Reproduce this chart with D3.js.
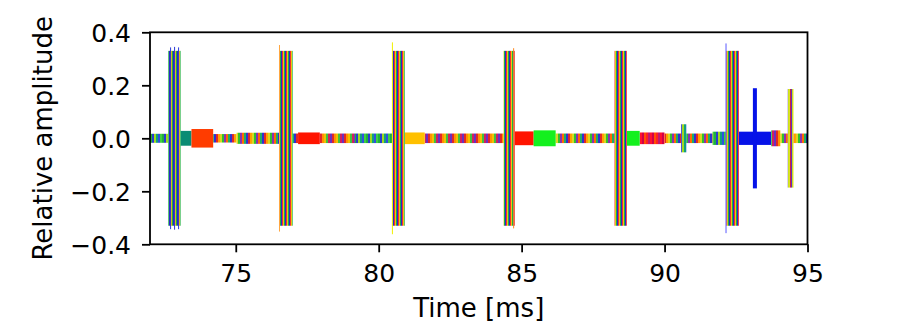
<!DOCTYPE html>
<html>
<head>
<meta charset="utf-8">
<script src="https://cdn.jsdelivr.net/npm/d3@7"></script>
<style>
  body { margin: 0; background: #fff; }
  text { font-family: "DejaVu Sans", sans-serif; }
</style>
</head>
<body>
<div id="chart"></div>
<script>
width = 897
height = 327

margin = {top: 32.3, right: 89.5, bottom: 82.7, left: 150}

// signal segments: start / end time [ms], half amplitude, stripe set
segStart = [72.00, 72.64, 73.07, 73.45, 74.21, 75.03, 76.53, 76.99, 77.18, 77.94, 79.17, 80.48, 80.91, 81.61, 84.37, 84.76, 85.42, 86.19, 88.25, 88.68, 89.13, 90.00, 90.58, 90.76, 91.68, 92.16, 92.60, 93.09, 93.73, 94.05, 94.31, 94.51]
segEnd   = [72.64, 73.07, 73.45, 74.21, 75.03, 76.53, 76.99, 77.18, 77.94, 79.17, 80.48, 80.91, 81.61, 84.37, 84.76, 85.42, 86.19, 88.25, 88.68, 89.13, 90.00, 90.58, 90.76, 91.68, 92.16, 92.60, 93.73, 93.23, 94.05, 94.31, 94.51, 95.10]
segAmp   = [0.017, 0.330, 0.028, 0.035, 0.016, 0.021, 0.330, 0.018, 0.022, 0.018, 0.018, 0.330, 0.022, 0.018, 0.330, 0.026, 0.030, 0.018, 0.330, 0.028, 0.022, 0.018, 0.053, 0.018, 0.025, 0.330, 0.025, 0.189, 0.030, 0.018, 0.186, 0.018]
segKind  = ["cool", "burst", "teal", "orange", "mixed", "mixed", "burst", "mixed", "red", "warm", "cool", "burst", "yellow", "warm", "burst", "red", "green", "mixed", "burst", "green", "crimson", "mixed", "cool", "mixed", "cool", "burst", "blue", "blue", "warm", "mixed", "tail", "mixed"]

// single lines that stick out of the bursts
spikeTime  = [72.72, 72.86, 73.00, 76.53, 80.48, 84.72, 92.15]
spikeAmp   = [0.343, 0.345, 0.343, 0.352, 0.362, 0.340, 0.358]
spikeColor = ["#2a3ad8", "#2a3ad8", "#2a3ad8", "#ffa640", "#f0f000", "#ff8a20", "#5a5aff"]

yTicks = [-0.4, -0.2, 0.0, 0.2, 0.4]
xTicks = [75, 80, 85, 90, 95]

stripes = {
  burst:   {w: 1, colors: ["#f03030", "#e8c810", "#20b040", "#2828c8"]},
  mixed:   {w: 2, colors: ["#3030d0", "#e02828", "#ffa000", "#d8d820", "#30c030", "#8a30b0", "#ff6a00", "#20b060"]},
  warm:    {w: 2, colors: ["#6a30c0", "#e02828", "#ff9000", "#f0c000", "#40c040", "#d02060"]},
  cool:    {w: 2, colors: ["#20b040", "#2a3ad0", "#a0d820", "#10a080", "#3050e0", "#40d040"]},
  crimson: {w: 2, colors: ["#ff1030", "#d00048", "#ff5000", "#ff2020", "#c01870"]},
  tail:    {w: 1, colors: ["#d02040", "#6030c0", "#c8e020", "#e0e020"]},
  teal:    {solid: "#0a8c74"},
  orange:  {solid: "#ff3c00"},
  red:     {solid: "#ff1400"},
  yellow:  {solid: "#ffc000"},
  green:   {solid: "#14f01e"},
  blue:    {solid: "#0612e8"}
}

innerW = width - margin.left - margin.right
innerH = height - margin.top - margin.bottom

x = d3.scaleLinear().domain([72, 95]).range([0, innerW])
y = d3.scaleLinear().domain([-0.4, 0.4]).range([innerH, 0])

const svg = d3.select('#chart')
  .append("svg")
    .attr("width", width)
    .attr("height", height)
  .append("g")
    .attr("transform", `translate(${margin.left},${margin.top})`);

const defs = svg.append("defs")
defs.append("clipPath").attr("id", "plotclip")
  .append("rect").attr("width", innerW).attr("height", innerH)

// one striped pattern per colour set
Object.entries(stripes).forEach(([k, s]) => {
  if (s.solid) return
  const p = defs.append("pattern")
      .attr("id", "st-" + k)
      .attr("patternUnits", "userSpaceOnUse")
      .attr("width", s.w * s.colors.length)
      .attr("height", innerH)
  s.colors.forEach((c, i) => p.append("rect")
      .attr("x", i * s.w).attr("y", 0)
      .attr("width", s.w).attr("height", innerH)
      .attr("fill", c))
})
const fillOf = k => stripes[k].solid || `url(#st-${k})`

const plot = svg.append("g").attr("clip-path", "url(#plotclip)")

const segs = segStart.map((s, i) => ({s, e: segEnd[i], a: segAmp[i], k: segKind[i]}))
// low segments first, bursts on top
segs.sort((a, b) => a.a - b.a)

plot.selectAll(".seg")
  .data(segs)
  .enter().append("rect")
    .attr("class", "seg")
    .attr("x", d => x(d.s))
    .attr("width", d => x(d.e) - x(d.s))
    .attr("y", d => y(d.a))
    .attr("height", d => y(-d.a) - y(d.a))
    .attr("fill", d => fillOf(d.k))

plot.selectAll(".spike")
  .data(spikeTime)
  .enter().append("line")
    .attr("class", "spike")
    .attr("x1", d => x(d)).attr("x2", d => x(d))
    .attr("y1", (d, i) => y(spikeAmp[i]))
    .attr("y2", (d, i) => y(-spikeAmp[i]))
    .attr("stroke", (d, i) => spikeColor[i])
    .attr("stroke-width", 1)

// axes
const xAxis = svg.append("g")
  .attr("transform", `translate(0,${innerH})`)
  .call(d3.axisBottom(x).tickValues(xTicks).tickFormat(d3.format("d")).tickSize(8).tickPadding(12))
const yAxis = svg.append("g")
  .call(d3.axisLeft(y).tickValues(yTicks).tickFormat(d3.format(".1f")).tickSize(8).tickPadding(11))

;[xAxis, yAxis].forEach(a => {
  a.select(".domain").remove()
  a.selectAll("line").attr("stroke", "#000").attr("stroke-width", 1.8)
  a.selectAll("text").attr("font-size", 25).attr("fill", "#000").attr("font-family", "DejaVu Sans")
})
yAxis.selectAll("text").attr("dy", "0.36em")

// frame
svg.append("rect")
  .attr("width", innerW).attr("height", innerH)
  .attr("fill", "none").attr("stroke", "#000").attr("stroke-width", 1.8)

svg.append("text")
  .attr("x", innerW / 2).attr("y", 317 - margin.top)
  .attr("text-anchor", "middle")
  .attr("font-size", 26)
  .text("Time [ms]")

svg.append("text")
  .attr("transform", `translate(${52 - margin.left},${innerH / 2}) rotate(-90)`)
  .attr("text-anchor", "middle")
  .attr("font-size", 26)
  .text("Relative amplitude")
</script>
</body>
</html>
